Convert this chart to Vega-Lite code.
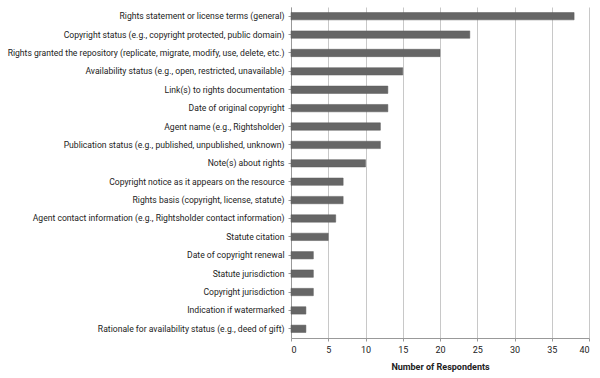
{
  "$schema": "https://vega.github.io/schema/vega-lite/v6.json",
  "autosize": {"type": "none"},
  "padding": {"left": 291, "top": 7, "right": 11, "bottom": 40},
  "width": 298,
  "height": 331,
  "background": "white",
  "data": {"values": [
    {"item": "Rights statement or license terms (general)", "n": 38},
    {"item": "Copyright status (e.g., copyright protected, public domain)", "n": 24},
    {"item": "Rights granted the repository (replicate, migrate, modify, use, delete, etc.)", "n": 20},
    {"item": "Availability status (e.g., open, restricted, unavailable)", "n": 15},
    {"item": "Link(s) to rights documentation", "n": 13},
    {"item": "Date of original copyright", "n": 13},
    {"item": "Agent name (e.g., Rightsholder)", "n": 12},
    {"item": "Publication status (e.g., published, unpublished, unknown)", "n": 12},
    {"item": "Note(s) about rights", "n": 10},
    {"item": "Copyright notice as it appears on the resource", "n": 7},
    {"item": "Rights basis (copyright, license, statute)", "n": 7},
    {"item": "Agent contact information (e.g., Rightsholder contact information)", "n": 6},
    {"item": "Statute citation", "n": 5},
    {"item": "Date of copyright renewal", "n": 3},
    {"item": "Statute jurisdiction", "n": 3},
    {"item": "Copyright jurisdiction", "n": 3},
    {"item": "Indication if watermarked", "n": 2},
    {"item": "Rationale for availability status (e.g., deed of gift)", "n": 2}
  ]},
  "mark": {"type": "bar", "color": "#666666", "stroke": "#5a5a5a", "strokeWidth": 0.5},
  "encoding": {
    "y": {
      "field": "item", "type": "nominal", "sort": null,
      "scale": {"paddingInner": 0.6, "paddingOuter": 0.3},
      "axis": {"title": null, "labelFont": "Roboto", "labelFontSize": 8.6, "labelColor": "#222", "labelLimit": 300, "labelPadding": 4, "domainColor": "#999", "tickColor": "#999", "tickSize": 3, "grid": false}
    },
    "x": {
      "field": "n", "type": "quantitative",
      "scale": {"domain": [0, 40], "nice": false},
      "axis": {"title": "Number of Respondents", "titleFont": "Roboto", "titleFontSize": 9, "titleFontWeight": "bold", "titleColor": "#222", "titlePadding": 8, "values": [0,5,10,15,20,25,30,35,40], "labelFont": "Roboto", "labelFontSize": 9, "labelColor": "#222", "labelPadding": 4, "domainColor": "#999", "tickColor": "#999", "tickSize": 3, "grid": true, "gridColor": "#c8c8c8", "gridWidth": 1}
    }
  },
  "config": {"view": {"stroke": null}}
}
